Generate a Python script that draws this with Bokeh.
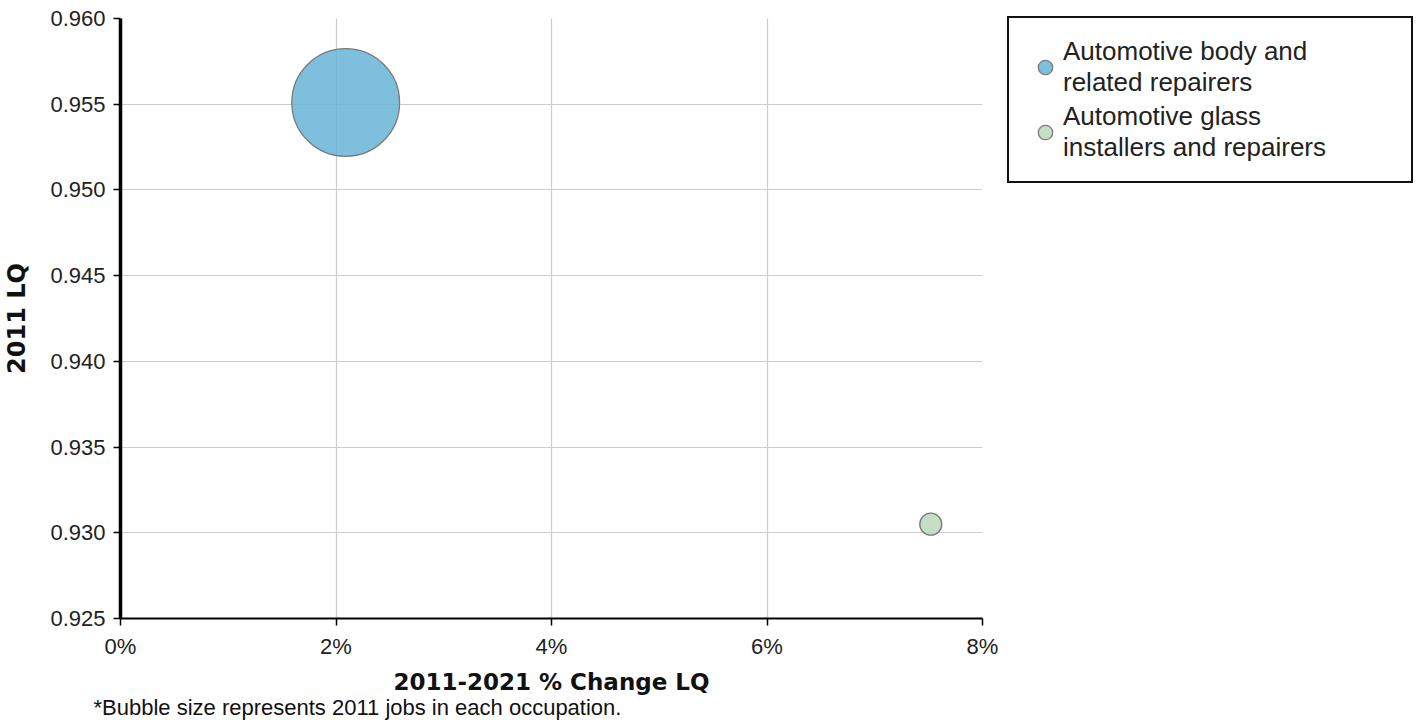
from bokeh.plotting import figure
from bokeh.models import (Range1d, FixedTicker, NumeralTickFormatter, Legend, LegendItem,
                          Title, ColumnDataSource)
from bokeh.embed import file_html
from bokeh.resources import INLINE

# ---- data ----
occupations = ["Automotive body and\nrelated repairers",
               "Automotive glass\ninstallers and repairers"]
pct_change_lq = [0.0209, 0.0752]      # 2011-2021 % change LQ
lq_2011 = [0.9551, 0.9305]            # 2011 LQ
jobs_2011 = [2400, 100]               # bubble size basis (2011 jobs)
colors = ["#66b4d6", "#bad9ba"]
x_ticks = [0, 0.02, 0.04, 0.06, 0.08]
y_ticks = [0.925, 0.930, 0.935, 0.940, 0.945, 0.950, 0.955, 0.960]

SIZE_K = 2.2
REG = "Liberation Sans"
BOLD = "DejaVu Sans"

p = figure(frame_width=862, frame_height=600, output_backend="svg", toolbar_location=None,
           x_range=Range1d(0, 0.08), y_range=Range1d(0.925, 0.960),
           min_border_left=120, min_border_right=428, min_border_top=18,
           min_border_bottom=102)
p.outline_line_color = None
p.background_fill_color = "white"
p.border_fill_color = "white"

# grids
for g in (p.xgrid, p.ygrid):
    g.grid_line_color = "#cccccc"
    g.grid_line_width = 1.2
p.xgrid.ticker = FixedTicker(ticks=x_ticks)
p.ygrid.ticker = FixedTicker(ticks=y_ticks)

# axes
xa = p.xaxis[0]
ya = p.yaxis[0]
xa.ticker = FixedTicker(ticks=x_ticks)
ya.ticker = FixedTicker(ticks=y_ticks)
xa.formatter = NumeralTickFormatter(format="0%")
ya.formatter = NumeralTickFormatter(format="0.000")
for ax in (xa, ya):
    ax.axis_line_color = "black"
    ax.major_tick_line_color = "black"
    ax.major_tick_line_width = 1.5
    ax.major_tick_out = 7
    ax.major_tick_in = 0
    ax.minor_tick_line_color = None
    ax.major_label_text_font = REG
    ax.major_label_text_font_size = "22px"
    ax.major_label_text_color = "#222222"
    ax.major_label_standoff = 8
    ax.axis_label_text_font = BOLD
    ax.axis_label_text_font_style = "bold"
    ax.axis_label_text_color = "#111111"
ya.axis_line_width = 3.5
xa.axis_line_width = 2
xa.axis_label = "2011-2021 % Change LQ"
ya.axis_label = "2011 LQ"
xa.axis_label_text_font_size = "23px"
ya.axis_label_text_font_size = "24px"
xa.axis_label_standoff = 7
ya.axis_label_standoff = 16

# bubbles
renderers = []
for i in range(len(occupations)):
    src = ColumnDataSource(dict(x=[pct_change_lq[i]], y=[lq_2011[i]],
                                s=[SIZE_K * jobs_2011[i] ** 0.5]))
    r = p.scatter("x", "y", size="s", source=src, fill_color=colors[i],
                  fill_alpha=0.85, line_color="#7a7a7a", line_width=1.3)
    renderers.append(r)

legend = Legend(items=[LegendItem(label=occupations[i], renderers=[renderers[i]])
                       for i in range(len(occupations))],
                location=(25, 435), orientation="vertical")
legend.label_text_font = REG
legend.label_text_font_size = "26px"
legend.label_text_color = "#222222"
legend.border_line_color = "#111111"
legend.border_line_alpha = 1.0
legend.border_line_width = 2
legend.background_fill_color = "white"
legend.background_fill_alpha = 1
legend.padding = 18
legend.glyph_width = 36
legend.glyph_height = 42
legend.label_standoff = 0
legend.label_width = 330
legend.spacing = 3
legend.margin = 0
p.add_layout(legend, "right")

note = Title(text="*Bubble size represents 2011 jobs in each occupation.",
             align="left", offset=-27, standoff=-10,
             text_font=REG, text_font_size="22px", text_color="#111111",
             text_font_style="normal")
p.add_layout(note, "below")

open("out.html", "w").write(file_html(p, INLINE))
